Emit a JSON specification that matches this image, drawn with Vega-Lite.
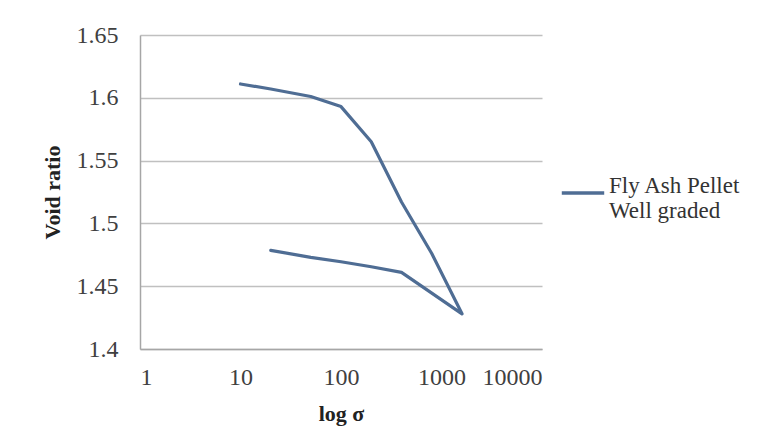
{
  "$schema": "https://vega.github.io/schema/vega-lite/v6.json",
  "width": 402,
  "height": 314,
  "autosize": {"type": "none"},
  "padding": {"left": 140, "top": 35, "right": 221, "bottom": 94},
  "background": "white",
  "data": {
    "values": [
      {"order": 1, "sigma": 10, "e": 1.611, "series": "Fly Ash Pellet Well graded"},
      {"order": 2, "sigma": 20, "e": 1.607, "series": "Fly Ash Pellet Well graded"},
      {"order": 3, "sigma": 50, "e": 1.601, "series": "Fly Ash Pellet Well graded"},
      {"order": 4, "sigma": 100, "e": 1.593, "series": "Fly Ash Pellet Well graded"},
      {"order": 5, "sigma": 200, "e": 1.565, "series": "Fly Ash Pellet Well graded"},
      {"order": 6, "sigma": 400, "e": 1.517, "series": "Fly Ash Pellet Well graded"},
      {"order": 7, "sigma": 800, "e": 1.476, "series": "Fly Ash Pellet Well graded"},
      {"order": 8, "sigma": 1600, "e": 1.428, "series": "Fly Ash Pellet Well graded"},
      {"order": 9, "sigma": 400, "e": 1.461, "series": "Fly Ash Pellet Well graded"},
      {"order": 10, "sigma": 200, "e": 1.4655, "series": "Fly Ash Pellet Well graded"},
      {"order": 11, "sigma": 100, "e": 1.4695, "series": "Fly Ash Pellet Well graded"},
      {"order": 12, "sigma": 50, "e": 1.473, "series": "Fly Ash Pellet Well graded"},
      {"order": 13, "sigma": 20, "e": 1.4785, "series": "Fly Ash Pellet Well graded"}
    ]
  },
  "mark": {"type": "line", "strokeWidth": 3.2, "strokeCap": "round", "strokeJoin": "round"},
  "encoding": {
    "x": {
      "field": "sigma",
      "type": "quantitative",
      "scale": {"type": "log", "domain": [1, 10000], "nice": false},
      "axis": {
        "title": "log σ",
        "values": [1, 10, 100, 1000, 10000],
        "format": "d",
        "grid": false,
        "ticks": false,
        "labelPadding": 16,
        "titlePadding": 14
      }
    },
    "y": {
      "field": "e",
      "type": "quantitative",
      "scale": {"domain": [1.4, 1.65], "nice": false, "zero": false},
      "axis": {
        "title": "Void ratio",
        "values": [1.4, 1.45, 1.5, 1.55, 1.6, 1.65],
        "labelExpr": "format(datum.value, '~g')",
        "grid": true,
        "ticks": false,
        "labelPadding": 22,
        "titlePadding": 12
      }
    },
    "order": {"field": "order", "type": "quantitative"},
    "color": {
      "field": "series",
      "type": "nominal",
      "scale": {"range": ["#4f6d94"]},
      "legend": {
        "title": null,
        "orient": "none",
        "legendX": 420,
        "legendY": 135,
        "symbolType": "stroke",
        "symbolSize": 1800,
        "symbolStrokeWidth": 3.5,
        "labelExpr": "['Fly Ash Pellet', 'Well graded']",
        "labelFont": "Liberation Serif, Times New Roman, serif",
        "labelFontSize": 23,
        "labelBaseline": "alphabetic",
        "labelLineHeight": 32,
        "labelColor": "#333333",
        "labelLimit": 300,
        "labelOffset": 3
      }
    }
  },
  "config": {
    "view": {"stroke": null},
    "axis": {
      "labelFont": "Liberation Serif, Times New Roman, serif",
      "labelFontSize": 24,
      "labelColor": "#404040",
      "titleFont": "Liberation Serif, Times New Roman, serif",
      "titleFontSize": 22,
      "titleFontWeight": "bold",
      "titleColor": "#222222",
      "domainColor": "#a6a6a6",
      "domainWidth": 1.5,
      "gridColor": "#c0c0c0",
      "gridWidth": 1.3
    }
  }
}
